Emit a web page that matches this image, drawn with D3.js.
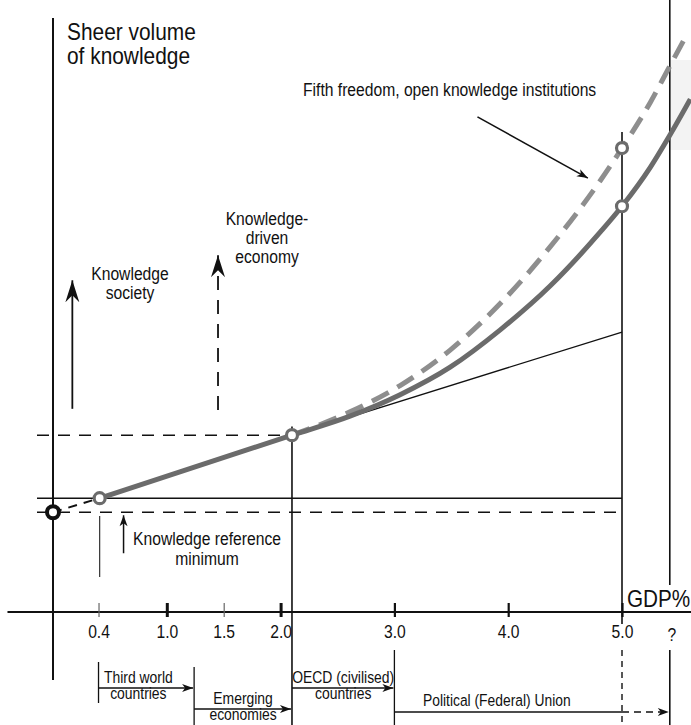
<!DOCTYPE html>
<html>
<head>
<meta charset="utf-8">
<script src="https://cdn.jsdelivr.net/npm/d3@7"></script>
<style>
  body { margin: 0; background: #fff; }
  text { font-family: "Liberation Sans", Arial, sans-serif; fill: #111; }
</style>
</head>
<body>
<div id="chart"></div>
<script>
// x axis ticks (GDP %)
const gdpTicks = [0.4, 1.0, 1.5, 2.0, 3.0, 4.0, 5.0];
const tickLabels = ["0.4", "1.0", "1.5", "2.0", "3.0", "4.0", "5.0"];
const unknownGdp = 5.42;

// knowledge curve (solid) and open-institutions curve (dashed)
const gdpSolid = [0.41, 2.1, 2.61, 3.05, 3.49, 3.93, 4.37, 4.81, 5.0, 5.25, 5.42, 5.6];
const knowSolid = [18.6, 28.9, 32.0, 35.5, 40.0, 46.1, 53.3, 62.1, 66.3, 72.7, 77.9, 83.8];
const gdpDashed = [2.1, 2.61, 3.05, 3.49, 3.93, 4.37, 4.81, 5.0, 5.25, 5.42, 5.58];
const knowDashed = [28.9, 32.7, 37.0, 42.8, 50.4, 59.7, 70.5, 75.8, 83.3, 89.2, 94.7];

// marked points
const pointGdp = [0.41, 2.1, 5.0, 5.0];
const pointKnow = [18.6, 28.9, 66.3, 75.8];
const refMinimum = 16.3;
const tangentEnd = [5.0, 45.75];

// development stages under the axis
const stageLabels = [["Third world", "countries"], ["Emerging", "economies"], ["OECD (civilised)", "countries"], ["Political (Federal) Union"]];
const stageStart = [0.4, 1.24, 2.1, 3.0];
const stageEnd = [1.24, 2.1, 3.0, 5.42];
const stageLabelAt = [0.75, 1.67, 2.55, 3.9];

const svgWidth = 691, svgHeight = 725;
const narrow = 0.87; // condensed type, like Arial Narrow
const x = d3.scaleLinear().domain([0, 5]).range([53, 622]);
const y = d3.scaleLinear().domain([0, 100]).range([612, 0]);
const solidColor = "#6b6b6b", dashColor = "#8e8e8e";

const svg = d3.select("#chart").append("svg")
  .attr("width", svgWidth)
  .attr("height", svgHeight);

// arrow markers
const defs = svg.append("defs");
defs.append("marker").attr("id", "bigHead")
  .attr("markerUnits", "userSpaceOnUse")
  .attr("viewBox", "-22 -8 24 16").attr("refX", 0).attr("refY", 0)
  .attr("markerWidth", 24).attr("markerHeight", 16).attr("orient", "auto")
  .append("path").attr("d", "M0,0 L-22,-7 L-15,0 L-22,7 Z").attr("fill", "#111");
defs.append("marker").attr("id", "smallHead")
  .attr("markerUnits", "userSpaceOnUse")
  .attr("viewBox", "-12 -5 13 10").attr("refX", 0).attr("refY", 0)
  .attr("markerWidth", 13).attr("markerHeight", 10).attr("orient", "auto")
  .append("path").attr("d", "M0,0 L-11,-4 L-8,0 L-11,4 Z").attr("fill", "#111");

// faint panel at top right
svg.append("rect").attr("x", 670).attr("y", 60).attr("width", 21).attr("height", 90).attr("fill", "#f3f3f3");

function line(x1, y1, x2, y2, w, dash, color) {
  return svg.append("line")
    .attr("x1", x1).attr("y1", y1).attr("x2", x2).attr("y2", y2)
    .attr("stroke", color || "#111").attr("stroke-width", w)
    .attr("stroke-dasharray", dash || null);
}

function label(tx, ty, lines, size, anchor, lh, sx) {
  const t = svg.append("text")
    .attr("transform", "translate(" + tx + "," + ty + ") scale(" + (sx || narrow) + ",1)")
    .attr("font-size", size).attr("text-anchor", anchor);
  lines.forEach((s, i) => t.append("tspan").attr("x", 0).attr("dy", i ? lh : 0).text(s));
  return t;
}

// axes
line(x(0), 18, x(0), 680, 2);
line(x(-0.4), y(0), svgWidth, y(0), 2);

const xAxis = svg.append("g")
  .attr("transform", "translate(0," + y(0) + ")")
  .call(d3.axisBottom(x).tickValues(gdpTicks).tickFormat((d, i) => tickLabels[i]).tickSize(0).tickPadding(13));
xAxis.select(".domain").remove();
xAxis.selectAll(".tick line")
  .attr("y1", -9).attr("y2", 5)
  .attr("stroke", d => (d === 0.4 || d === 1.5) ? "#666" : "#111")
  .attr("stroke-width", d => (d === 0.4 || d === 1.5) ? 1.2 : (d === 1.0 || d === 2.0 ? 3 : 2.2));
xAxis.selectAll(".tick text")
  .attr("font-size", 18).attr("fill", "#111")
  .attr("transform", "scale(" + narrow + ",1)")
  .style("font-family", "'Liberation Sans',Arial,sans-serif");
label(x(unknownGdp) + 2, 641, ["?"], 18, "middle", 0);
label(627, 607, ["GDP%"], 23, "start", 0, 0.9);

// vertical guides
line(x(2.1), y(30.3), x(2.1), svgHeight, 1.6);
line(x(5.0), 132, x(5.0), y(0) + 12, 1.6);
line(x(5.0), 650, x(5.0), svgHeight, 1.4, "6,5");
line(x(unknownGdp), 0, x(unknownGdp), 585, 1.6);

// horizontal reference levels
line(37, y(pointKnow[0]), x(5.0), y(pointKnow[0]), 1.5);
line(37, y(refMinimum), x(5.0), y(refMinimum), 1.5, "12,9");
line(37, y(pointKnow[1]), x(2.1), y(pointKnow[1]), 1.5, "12,9");

// tangent from the OECD point
line(x(pointGdp[1]), y(pointKnow[1]), x(tangentEnd[0]), y(tangentEnd[1]), 1.3);

// short dashed link from origin minimum to first point
line(x(0), y(refMinimum), x(pointGdp[0]), y(pointKnow[0]), 2, "9,7");

// curves
const curve = d3.line().x(d => x(d[0])).y(d => y(d[1])).curve(d3.curveMonotoneX);
svg.append("path")
  .datum(d3.zip(gdpDashed, knowDashed))
  .attr("fill", "none").attr("stroke", dashColor).attr("stroke-width", 5)
  .attr("stroke-dasharray", "19,10").attr("d", curve);
svg.append("path")
  .datum(d3.zip(gdpSolid, knowSolid))
  .attr("fill", "none").attr("stroke", solidColor).attr("stroke-width", 5)
  .attr("d", curve);

// points
svg.selectAll(".pt").data(d3.zip(pointGdp, pointKnow)).join("circle")
  .attr("class", "pt")
  .attr("cx", d => x(d[0])).attr("cy", d => y(d[1])).attr("r", 5.5)
  .attr("fill", "#fff").attr("stroke", solidColor).attr("stroke-width", 3.2);
svg.append("circle").attr("cx", x(0)).attr("cy", y(refMinimum)).attr("r", 6)
  .attr("fill", "#fff").attr("stroke", "#111").attr("stroke-width", 4);

// annotation arrows
line(x(0.17), y(33.2), x(0.17), y(54.2), 1.8).attr("marker-end", "url(#bigHead)");
line(x(1.45), y(33.0), x(1.45), y(58.3), 1.8, "14,10").attr("marker-end", "url(#bigHead)");
line(x(0.62), y(9.6), x(0.62), y(15.8), 1.5).attr("marker-end", "url(#smallHead)");
line(x(0.41), y(15.7), x(0.41), y(5.7), 1.2, null, "#333");
line(x(3.73), y(80.9), x(4.70), y(70.9), 1.6).attr("marker-end", "url(#smallHead)");

// labels
label(67, 40, ["Sheer volume", "of knowledge"], 24, "start", 24);
label(303, 96, ["Fifth freedom, open knowledge institutions"], 18, "start", 0);
label(130, 280, ["Knowledge", "society"], 18, "middle", 19);
label(267, 225, ["Knowledge-", "driven", "economy"], 18, "middle", 19);
label(207, 545, ["Knowledge reference", "minimum"], 18, "middle", 20);

// development stages
const stageRowArrow = [688, 709, 688, 712];
stageLabels.forEach((lab, i) => {
  const x0 = x(stageStart[i]), x1 = x(stageEnd[i]);
  const ay = stageRowArrow[i];
  if (i === 0) line(x0, 662, x0, 703, 1.3);
  if (i === 1) line(x0, 667, x0, svgHeight, 1.3);
  if (i === 3) {
    line(x0, 650, x0, svgHeight, 1.3);
    line(x1, 650, x1, svgHeight, 1.6);
    line(x0, ay, x(5.0), ay, 1.5);
    line(x(5.0), ay, x1 - 1, ay, 1.5, "7,5").attr("marker-end", "url(#smallHead)");
    label(x(stageLabelAt[i]), ay - 6, lab, 16.5, "middle", 18, 0.84);
  } else {
    label(x(stageLabelAt[i]), ay - 5, lab, 16, "middle", 16.5, 0.87);
    line(x0, ay, x1 - 1, ay, 1.5).attr("marker-end", "url(#smallHead)");
  }
});
</script>
</body>
</html>
